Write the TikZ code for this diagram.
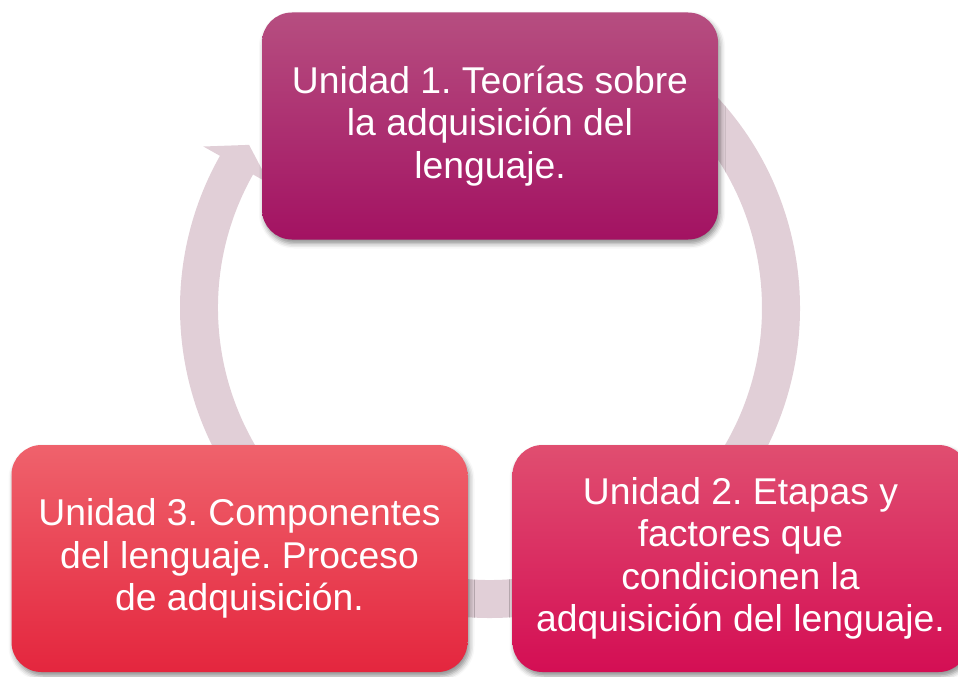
\documentclass[tikz,border=0pt]{standalone}
\usepackage{fontspec}
\setmainfont{Liberation Sans}
\usetikzlibrary{shadows.blur}
\definecolor{band}{RGB}{225,207,215}
\definecolor{uatop}{RGB}{182,78,128}
\definecolor{uamid}{RGB}{176,28,112}
\definecolor{uabot}{RGB}{163,18,98}
\definecolor{ubtop}{RGB}{224,78,112}
\definecolor{ubmid}{RGB}{226,24,90}
\definecolor{ubbot}{RGB}{212,14,84}
\definecolor{uctop}{RGB}{239,98,108}
\definecolor{ucmid}{RGB}{238,52,72}
\definecolor{ucbot}{RGB}{228,38,62}
\begin{document}
\frenchspacing
\begin{tikzpicture}[x=1pt,y=-1pt,
  unitbox/.style={rectangle, rounded corners=30pt, minimum width=456pt,
    minimum height=227pt, inner sep=0pt, align=center, text=white,
    font=\fontsize{37.3pt}{42.5pt}\selectfont\frenchspacing,
    blur shadow={shadow xshift=2pt, shadow yshift=-4pt, shadow blur radius=5pt, shadow opacity=45}},
  cyclearrow/.style={fill=band, draw=none}]
\useasboundingbox (0,0) rectangle (958,677);
\clip (0,0) rectangle (958,677);
\coordinate (c) at (490,308);
\begin{scope}[shift={(c)}, yscale=-1]
  \fill[cyclearrow] (50:310) arc[start angle=50, end angle=-209.4, radius=310]
    -- (-209.4:329) -- (-214.1:291) -- (-209.4:253) -- (-209.4:272)
    arc[start angle=-209.4, end angle=50, radius=272] -- cycle;
\end{scope}
\node[unitbox, top color=uatop, middle color=uamid, bottom color=uabot] (u1) at (490,126)
  {Unidad 1. Teorías sobre\\la adquisición del\\lenguaje.};
\node[unitbox, top color=ubtop, middle color=ubmid, bottom color=ubbot] (u2) at (740.5,558.5)
  {Unidad 2. Etapas y\\factores que\\condicionen la\\adquisición del lenguaje.};
\node[unitbox, top color=uctop, middle color=ucmid, bottom color=ucbot] (u3) at (239.5,558.5)
  {Unidad 3. Componentes\\del lenguaje. Proceso\\de adquisición.};
\end{tikzpicture}
\end{document}
